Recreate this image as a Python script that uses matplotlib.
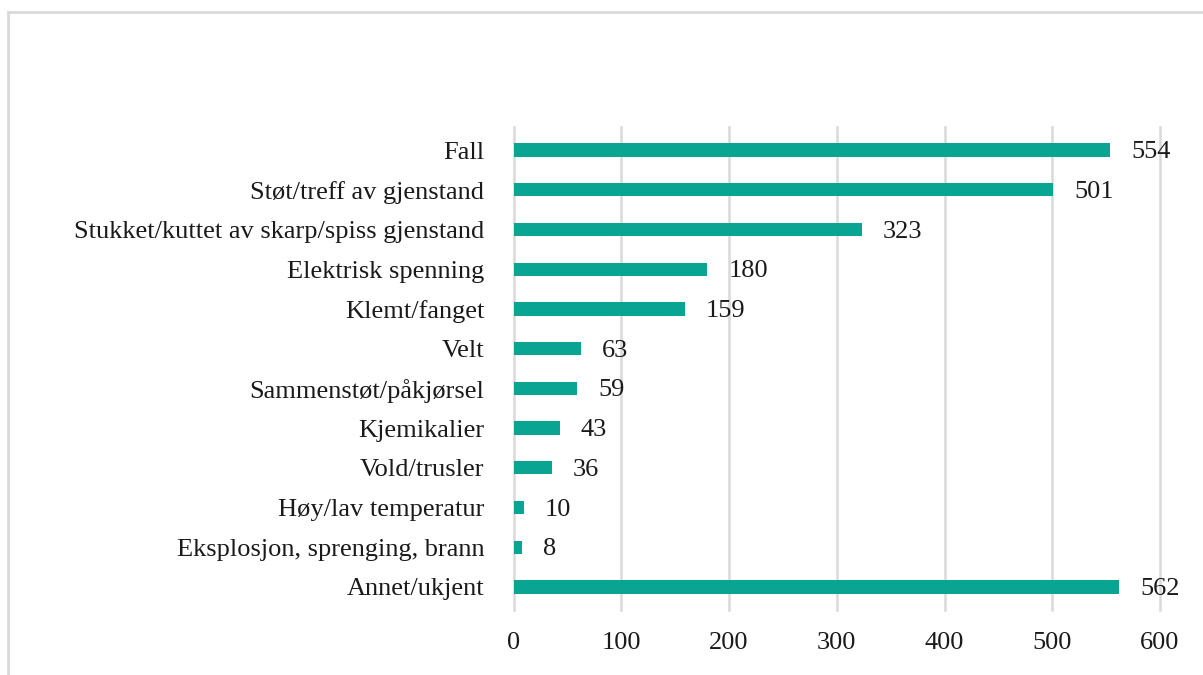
import matplotlib
matplotlib.use("Agg")
import matplotlib.pyplot as plt
from matplotlib.patches import Rectangle

# data
categories = [
    "Fall",
    "Støt/treff av gjenstand",
    "Stukket/kuttet av skarp/spiss gjenstand",
    "Elektrisk spenning",
    "Klemt/fanget",
    "Velt",
    "Sammenstøt/påkjørsel",
    "Kjemikalier",
    "Vold/trusler",
    "Høy/lav temperatur",
    "Eksplosjon, sprenging, brann",
    "Annet/ukjent",
]
counts = [554, 501, 323, 180, 159, 63, 59, 43, 36, 10, 8, 562]
xticks = [0, 100, 200, 300, 400, 500, 600]

bar_color = "#0AA592"
grid_color = "#D9D9D9"
text_color = "#1a1a1a"

plt.rcParams["font.family"] = ["Liberation Serif", "DejaVu Serif"]

W, H = 1203, 675
fig = plt.figure(figsize=(W / 100, H / 100), dpi=100)
# light frame around the chart area
fig.patches.append(Rectangle((8 / W, -0.1), 1.2, (H - 12) / H + 0.1,
                             transform=fig.transFigure, fill=False,
                             edgecolor=grid_color, linewidth=2))

ax = fig.add_axes([513.5 / W, 1 - 610 / H, 646.5 / W, (610 - 126.7) / H])

y = list(range(len(categories)))
ax.barh(y, counts, height=0.335, color=bar_color, zorder=3)

for yi, v in zip(y, counts):
    ax.annotate(str(v), (v, yi), xytext=(15, -1.5), textcoords="offset points",
                ha="left", va="center", fontsize=19, color=text_color)

ax.set_xlim(0, 600)
ax.set_ylim(len(categories) - 1 + 0.58, -0.59)
ax.set_xticks(xticks)
ax.set_xticklabels([str(t) for t in xticks], fontsize=19, color=text_color)
ax.set_yticks(y)
ax.set_yticklabels(categories, fontsize=19, color=text_color)
ax.tick_params(length=0)
ax.tick_params(axis="y", pad=21)
ax.tick_params(axis="x", pad=16)
ax.grid(axis="x", color=grid_color, linewidth=1.8, zorder=0)
for gl in ax.get_xgridlines():
    gl.set_clip_on(False)
for s in ax.spines.values():
    s.set_visible(False)

fig.savefig("out.png", dpi=100)
